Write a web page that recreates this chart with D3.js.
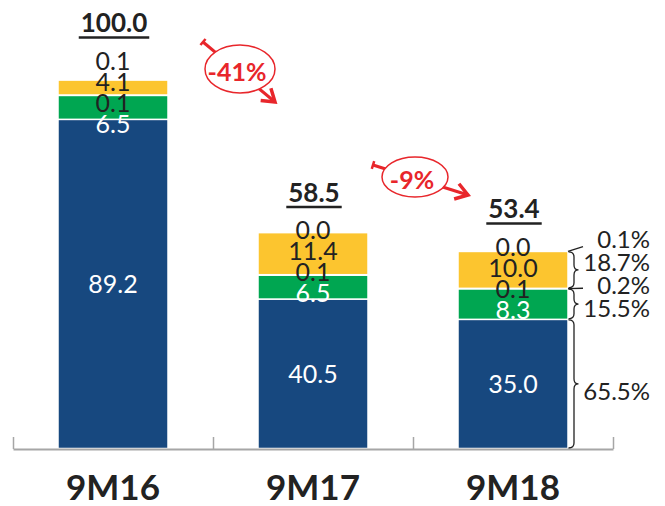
<!DOCTYPE html>
<html>
<head>
<meta charset="utf-8">
<script src="https://cdn.jsdelivr.net/npm/d3@7"></script>
<style>
  body { margin: 0; background: #fff; }
  text { font-family: Lato, "Open Sans", sans-serif; }
</style>
</head>
<body>
<div id="chart"></div>
<script>
const categories = ["9M16", "9M17", "9M18"]
const seriesBlue = [89.2, 40.5, 35.0]
const seriesGreen = [6.5, 6.5, 8.3]
const seriesSmallA = [0.1, 0.1, 0.1]
const seriesYellow = [4.1, 11.4, 10.0]
const seriesSmallB = [0.1, 0.0, 0.0]
const totals = [100.0, 58.5, 53.4]
// share of 9M18, bottom to top
const shareLabels = ["65.5%", "15.5%", "0.2%", "18.7%", "0.1%"]
const changeLabels = ["-41%", "-9%"]

const width = 665
const height = 506
const ink = "#222"
const red = "#e8262b"

const keys = ["blue", "green", "smallA", "yellow", "smallB"]
const colors = { blue: "#17487f", green: "#00a651", smallA: "#9aa5b1", yellow: "#fcc52f", smallB: "#cccccc" }
const whiteText = { blue: true, green: true }

const rows = categories.map((c, i) => ({
  cat: c, blue: seriesBlue[i], green: seriesGreen[i], smallA: seriesSmallA[i],
  yellow: seriesYellow[i], smallB: seriesSmallB[i]
}))

const svg = d3.select("#chart").append("svg")
  .attr("width", width)
  .attr("height", height)

const x = d3.scaleBand()
  .domain(categories)
  .range([13, 613])
  .paddingInner(0.45)
  .paddingOuter(0.225)

const y = d3.scaleLinear()
  .domain([0, 100])
  .range([448.5, 79.5])

const stacked = d3.stack().keys(keys)(rows)
const fmt = d3.format(".1f")

// bars
svg.selectAll("g.layer")
  .data(stacked)
  .join("g")
    .attr("class", "layer")
    .attr("fill", d => colors[d.key])
  .selectAll("rect")
  .data(d => d)
  .join("rect")
    .attr("x", d => x(d.data.cat))
    .attr("y", d => y(d[1]))
    .attr("width", x.bandwidth())
    .attr("height", d => y(d[0]) - y(d[1]))
    .attr("stroke", "#fff")
    .attr("stroke-width", 1.5)

// axis with ticks between categories
const xTick = d3.scaleLinear().domain([0, categories.length]).range(x.range())
const axis = svg.append("g")
  .attr("transform", "translate(0,449)")
  .call(d3.axisBottom(xTick)
    .tickValues(d3.range(categories.length + 1))
    .tickSizeInner(-12)
    .tickSizeOuter(0)
    .tickFormat(""))
axis.select(".domain").attr("stroke", "#a6a6a6").attr("stroke-width", 2)
axis.selectAll(".tick line").attr("stroke", "#a6a6a6").attr("stroke-width", 1.5)

svg.selectAll("text.cat")
  .data(categories)
  .join("text")
    .attr("class", "cat")
    .attr("x", d => x(d) + x.bandwidth() / 2)
    .attr("y", 500)
    .attr("text-anchor", "middle")
    .attr("font-size", 35)
    .attr("font-weight", "bold")
    .attr("fill", ink)
    .text(d => d)

// push stacked labels apart so they do not overlap
function spread(ideal, gap) {
  const clusters = []
  ideal.forEach(v => {
    clusters.push({ vals: [v], top: v })
    while (clusters.length > 1) {
      const b = clusters[clusters.length - 1]
      const a = clusters[clusters.length - 2]
      if (a.top + a.vals.length * gap <= b.top) break
      const vals = a.vals.concat(b.vals)
      const top = d3.mean(vals, (w, k) => w - k * gap)
      clusters.splice(clusters.length - 2, 2, { vals: vals, top: top })
    }
  })
  const out = []
  clusters.forEach(c => c.vals.forEach((v, k) => out.push(c.top + k * gap)))
  return out
}

const segsOf = i => keys.map(k => {
  const s = stacked.find(l => l.key === k)[i]
  return { key: k, d0: s[0], d1: s[1], value: s.data[k], mid: (y(s[0]) + y(s[1])) / 2 }
})

categories.forEach((c, i) => {
  const cx = x(c) + x.bandwidth() / 2
  const segs = segsOf(i)
  const upper = segs.slice(1).reverse()
  const pos = spread(upper.map(s => s.mid), 21)
  const placed = upper.map((s, k) => ({ s: s, y: pos[k] })).concat([{ s: segs[0], y: segs[0].mid }])

  svg.append("g").selectAll("text")
    .data(placed)
    .join("text")
      .attr("x", cx)
      .attr("y", d => d.y)
      .attr("dy", "0.35em")
      .attr("text-anchor", "middle")
      .attr("font-size", 25)
      .attr("fill", d => whiteText[d.s.key] ? "#fff" : ink)
      .text(d => fmt(d.s.value))

  const topY = pos[0]
  const t = svg.append("text")
    .attr("x", cx + 1)
    .attr("y", topY - 29)
    .attr("text-anchor", "middle")
    .attr("font-size", 26)
    .attr("font-weight", "bold")
    .attr("fill", ink)
    .text(fmt(totals[i]))
  const tw = t.node().getComputedTextLength()
  svg.append("line")
    .attr("x1", cx + 1 - tw / 2 - 2)
    .attr("x2", cx + 1 + tw / 2 + 2)
    .attr("y1", topY - 23.5)
    .attr("y2", topY - 23.5)
    .attr("stroke", ink)
    .attr("stroke-width", 2.5)
})

// shares of the last year with braces
const lastI = categories.length - 1
const lastSegs = segsOf(lastI)
const xr = x(categories[lastI]) + x.bandwidth()
const topDown = lastSegs.slice().reverse()
const shareTop = spread(topDown.slice(0, 4).map(s => s.mid), 23).map(v => v - 4)
const shareY = shareTop.concat([topDown[4].mid + 8])

function brace(x0, y0, y1, w) {
  const ym = (y0 + y1) / 2
  const r = Math.min(5, (y1 - y0) / 4)
  const xs = x0 + w * 0.55
  return `M${x0},${y0} Q${xs},${y0} ${xs},${y0 + r} L${xs},${ym - r} Q${xs},${ym} ${x0 + w},${ym}` +
    ` Q${xs},${ym} ${xs},${ym + r} L${xs},${y1 - r} Q${xs},${y1} ${x0},${y1}`
}

const braceG = svg.append("g").attr("fill", "none").attr("stroke", ink).attr("stroke-width", 1.3)
topDown.forEach((s, k) => {
  if (s.value >= 1) {
    braceG.append("path").attr("d", brace(xr + 0.5, y(s.d1) + 0.5, y(s.d0) - 0.5, 10))
  } else {
    braceG.append("line")
      .attr("x1", xr).attr("y1", s.mid)
      .attr("x2", xr + 15).attr("y2", (s.mid + shareY[k]) / 2 + 1)
  }
})

const shareTop2Bottom = shareLabels.slice().reverse()
svg.append("g").selectAll("text")
  .data(shareTop2Bottom)
  .join("text")
    .attr("x", 650)
    .attr("y", (d, k) => shareY[k])
    .attr("dy", "0.35em")
    .attr("text-anchor", "end")
    .attr("font-size", 24)
    .attr("fill", ink)
    .text(d => d)

// change call-outs between bars
const callouts = [
  { dx: 27, cy: 69, rx: 35, ry: 24, tail: [-37, -27], tip: [35, 33] },
  { dx: 2, cy: 177, rx: 33, ry: 20, tail: [-42, -12], tip: [53, 18] }
]

callouts.forEach((c, i) => {
  const mid = (x(categories[i]) + x(categories[i + 1]) + x.bandwidth()) / 2
  const cx = mid + c.dx
  const g = svg.append("g")
  const x0 = cx + c.tail[0], y0 = c.cy + c.tail[1]
  const x1 = cx + c.tip[0], y1 = c.cy + c.tip[1]
  const len = Math.hypot(x1 - x0, y1 - y0)
  const ux = (x1 - x0) / len, uy = (y1 - y0) / len
  const px = -uy, py = ux

  g.append("line")
    .attr("x1", x0).attr("y1", y0).attr("x2", x1).attr("y2", y1)
    .attr("stroke", red).attr("stroke-width", 3)
  g.append("line")
    .attr("x1", x0 - px * 4).attr("y1", y0 - py * 4)
    .attr("x2", x0 + px * 4).attr("y2", y0 + py * 4)
    .attr("stroke", red).attr("stroke-width", 2.5)
  g.append("path")
    .attr("d", `M${x1 - ux * 12 + px * 8},${y1 - uy * 12 + py * 8} L${x1},${y1} L${x1 - ux * 12 - px * 8},${y1 - uy * 12 - py * 8}`)
    .attr("fill", "none")
    .attr("stroke", red)
    .attr("stroke-width", 3.5)
  g.append("ellipse")
    .attr("cx", cx).attr("cy", c.cy).attr("rx", c.rx).attr("ry", c.ry)
    .attr("fill", "#fff").attr("stroke", red).attr("stroke-width", 1.5)
  g.append("text")
    .attr("x", cx - 3)
    .attr("y", c.cy + 3)
    .attr("dy", "0.35em")
    .attr("text-anchor", "middle")
    .attr("font-size", 25)
    .attr("font-weight", "bold")
    .attr("fill", red)
    .text(changeLabels[i])
})
</script>
</body>
</html>
